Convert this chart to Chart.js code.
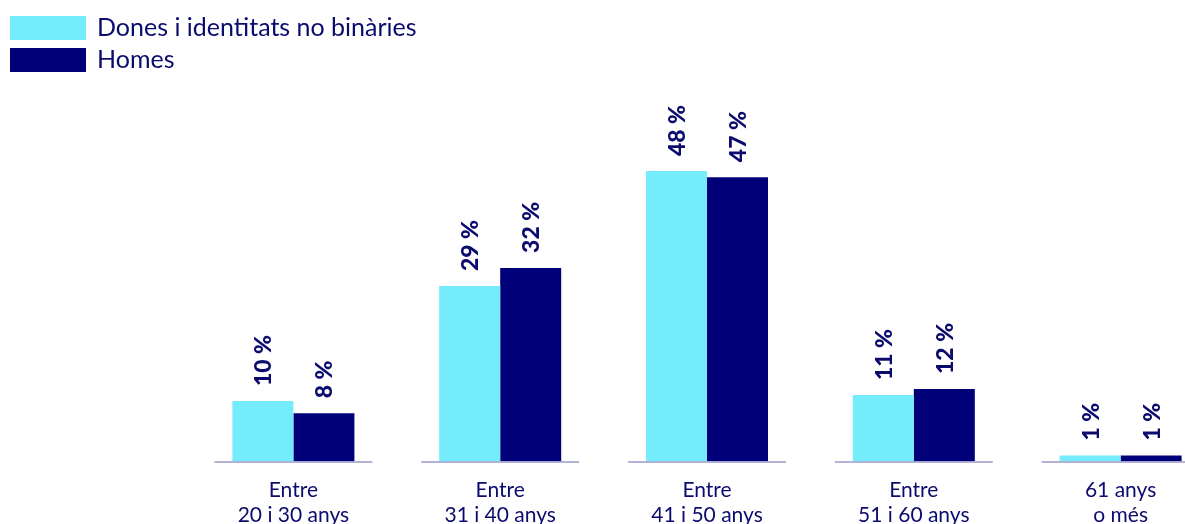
<!DOCTYPE html>
<html lang="ca">
<head>
<meta charset="utf-8">
<title>Distribució per edat</title>
<script src="https://cdn.jsdelivr.net/npm/chart.js@4/dist/chart.umd.min.js"></script>
<style>
  html, body { margin: 0; padding: 0; background: #ffffff; overflow: hidden; }
  #wrap { width: 1224px; height: 544px; }
</style>
</head>
<body>
<div id="wrap"><canvas id="c" width="1224" height="544"></canvas></div>
<script>
// Age bands (two-line labels)
const categories = [
  ['Entre', '20 i 30 anys'],
  ['Entre', '31 i 40 anys'],
  ['Entre', '41 i 50 anys'],
  ['Entre', '51 i 60 anys'],
  ['61 anys', 'o més']
];
const seriesNames = ['Dones i identitats no binàries', 'Homes'];
const donesValues = [10, 29, 48, 11, 1];
const homesValues = [8, 32, 47, 12, 1];

const LIGHT = '#74ecfc';
const DARK = '#000078';
const TEXT = '#0b0b6e';
const FONT = 'Lato, "Open Sans", sans-serif';

// Legend stacked in the top-left corner
const stackedLegend = {
  id: 'stackedLegend',
  afterDraw(chart) {
    const ctx = chart.ctx;
    ctx.save();
    chart.data.datasets.forEach((ds, i) => {
      const y = 16 + i * 32;
      ctx.fillStyle = ds.backgroundColor;
      ctx.fillRect(10, y, 76, 24);
      ctx.fillStyle = TEXT;
      ctx.font = '25px ' + FONT;
      ctx.textBaseline = 'middle';
      ctx.textAlign = 'left';
      ctx.fillText(ds.label, 97, y + 12);
    });
    ctx.restore();
  }
};

// Short baseline under each group of bars
const groupBaselines = {
  id: 'groupBaselines',
  afterDatasetsDraw(chart) {
    const ctx = chart.ctx;
    const x = chart.scales.x;
    const y = chart.chartArea.bottom;
    ctx.save();
    ctx.strokeStyle = '#9a9ac9';
    ctx.lineWidth = 1.5;
    categories.forEach((_, i) => {
      const cx = x.getPixelForValue(i);
      ctx.beginPath();
      ctx.moveTo(cx - 79, y + 0.5);
      ctx.lineTo(cx + 79, y + 0.5);
      ctx.stroke();
    });
    ctx.restore();
  }
};

// Vertical value labels above each bar
const barValueLabels = {
  id: 'barValueLabels',
  afterDatasetsDraw(chart) {
    const ctx = chart.ctx;
    ctx.save();
    ctx.fillStyle = TEXT;
    ctx.font = '900 23px ' + FONT;
    ctx.textAlign = 'left';
    ctx.textBaseline = 'middle';
    chart.data.datasets.forEach((ds, di) => {
      chart.getDatasetMeta(di).data.forEach((bar, i) => {
        ctx.save();
        ctx.translate(bar.x + 1, bar.y - 15);
        ctx.rotate(-Math.PI / 2);
        ctx.fillText(ds.data[i] + ' %', 0, 0);
        ctx.restore();
      });
    });
    ctx.restore();
  }
};

new Chart(document.getElementById('c'), {
  type: 'bar',
  data: {
    labels: categories,
    datasets: [
      { label: seriesNames[0], data: donesValues, backgroundColor: LIGHT },
      { label: seriesNames[1], data: homesValues, backgroundColor: DARK }
    ]
  },
  options: {
    responsive: false,
    animation: false,
    layout: { padding: { top: 159, left: 190, right: 0, bottom: 0 } },
    datasets: { bar: { categoryPercentage: 0.59, barPercentage: 1.0 } },
    plugins: {
      legend: { display: false },
      tooltip: { enabled: false }
    },
    scales: {
      x: {
        grid: { display: false, drawTicks: false },
        border: { display: false },
        ticks: {
          color: TEXT,
          font: { family: FONT, size: 21, lineHeight: 1.2 },
          padding: 16,
          maxRotation: 0,
          autoSkip: false
        }
      },
      y: {
        display: false,
        min: 0,
        max: 50
      }
    }
  },
  plugins: [stackedLegend, groupBaselines, barValueLabels]
});
</script>
</body>
</html>
